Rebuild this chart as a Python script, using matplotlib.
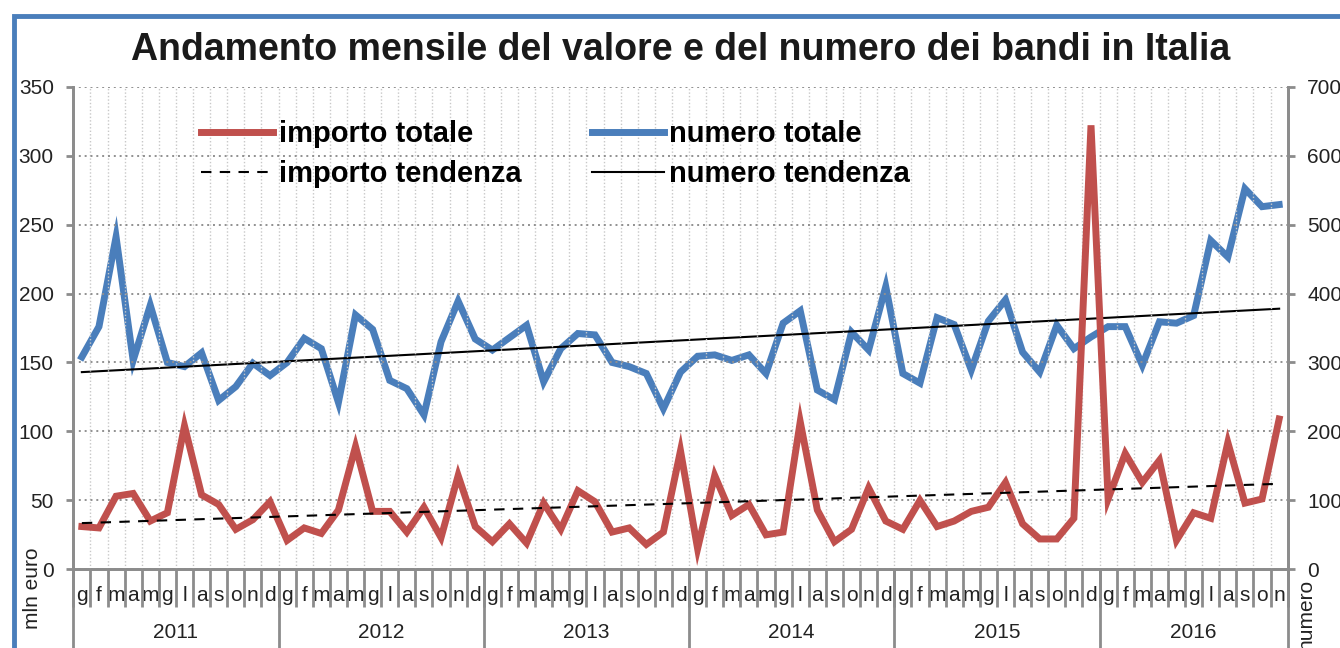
import numpy as np
import matplotlib
matplotlib.use('Agg')
import matplotlib.pyplot as plt
from matplotlib.patches import Rectangle

plt.rcParams['font.family'] = ['Liberation Sans', 'DejaVu Sans']

anni = ['2011', '2012', '2013', '2014', '2015', '2016']
mesi = ['g', 'f', 'm', 'a', 'm', 'g', 'l', 'a', 's', 'o', 'n', 'd']
mesi_per_anno = [12, 12, 12, 12, 12, 11]

# importo totale (mln euro)
importo = [31, 30, 53, 55, 35, 41, 104, 54, 47, 29, 36, 49,
           21, 30, 26, 43, 89, 42, 42, 27, 45, 23, 68, 31,
           20, 33, 19, 48, 29, 57, 49, 27, 30, 18, 27, 86,
           15, 68, 39, 47, 25, 27, 107, 43, 20, 29, 59, 35,
           29, 50, 31, 35, 42, 45, 63, 33, 22, 22, 37, 322,
           51, 84, 63, 79, 21, 41, 37, 92, 48, 51, 109]

# numero totale
numero = [308, 352, 482, 303, 383, 300, 294, 314, 245, 265, 299, 281,
          300, 335, 320, 242, 369, 348, 274, 262, 224, 330, 389, 334,
          318, 336, 354, 272, 320, 342, 340, 300, 294, 284, 233, 286,
          309, 311, 303, 311, 284, 357, 375, 260, 246, 344, 318, 410,
          284, 270, 365, 355, 289, 360, 391, 315, 286, 354, 320, 337,
          352, 352, 296, 359, 357, 368, 477, 453, 552, 526, 529]

# linee di tendenza (inizio, fine)
importo_tendenza = [33.5, 62]
numero_tendenza = [286, 378]

etichette_mesi = []
for n in mesi_per_anno:
    etichette_mesi += mesi[:n]
x = np.arange(len(importo))
x_tend = [x[0], x[-1]]

rosso = '#c0504d'
blu = '#4a7ebb'
grigio = '#8c8c8c'

fig = plt.figure(figsize=(13.4, 6.48), dpi=100)
ax = fig.add_axes([73.3 / 1340, 1 - 569.3 / 648, (1287.7 - 73.3) / 1340, (569.3 - 86.7) / 648])
ax2 = ax.twinx()
ax.set_zorder(ax2.get_zorder() + 1)
ax.patch.set_visible(False)

# numero sull'asse destro
l_num, = ax2.plot(x, numero, color=blu, lw=5, solid_joinstyle='miter', zorder=3, label='numero totale')
l_num_t, = ax2.plot(x_tend, numero_tendenza, color='black', lw=1.5, zorder=4, label='numero tendenza')

# importo sull'asse sinistro
l_imp, = ax.plot(x, importo, color=rosso, lw=5, solid_joinstyle='miter', zorder=3, label='importo totale')
l_imp_t, = ax.plot(x_tend, importo_tendenza, color='black', lw=1.5, ls=(0, (5, 4)), zorder=4,
                   label='importo tendenza')

ax.set_xlim(-0.5, len(x) - 0.5)
ax.set_ylim(0, 350)
ax2.set_ylim(0, 700)
ax.set_yticks(np.arange(0, 351, 50))
ax2.set_yticks(np.arange(0, 701, 100))

# griglia
ax.grid(axis='y', color='#909090', ls=(0, (1, 2)), lw=1.4)
for b in np.arange(0.5, len(x) - 0.5, 1):
    ax.axvline(b, color='#c8c8c8', ls=(0, (1, 1.5)), lw=1, zorder=0)

for a in (ax, ax2):
    a.spines['top'].set_visible(False)
    for s in ['left', 'right', 'bottom']:
        a.spines[s].set_color(grigio)
        a.spines[s].set_linewidth(2)

ax.tick_params(axis='y', length=5, width=2, color=grigio, labelsize=15, pad=9, labelcolor='#222222')
ax2.tick_params(axis='y', length=5, width=2, color=grigio, labelsize=15, pad=9, labelcolor='#222222')

# asse x a due livelli
ax.set_xticks(x)
ax.set_xticklabels(etichette_mesi)
ax.tick_params(axis='x', length=0, labelsize=15, pad=12, labelcolor='#222222')
ax.set_xticks(np.arange(-0.5, len(x), 1), minor=True)
ax.tick_params(axis='x', which='minor', length=27, width=2, color=grigio, direction='out')

trans = ax.get_xaxis_transform()
inizio = -0.5
for anno, n in zip(anni, mesi_per_anno):
    ax.plot([inizio, inizio], [0, -0.2], transform=trans, color=grigio, lw=2, clip_on=False)
    ax.text(inizio + n / 2, -0.13, anno, transform=trans, ha='center', va='center',
            fontsize=15, color='#222222')
    inizio += n
ax.plot([inizio, inizio], [0, -0.2], transform=trans, color=grigio, lw=2, clip_on=False)

fig.text(33 / 1340, 1 - 588 / 648, 'mln euro', rotation=90, ha='center', va='center',
         fontsize=15, color='#222222')
fig.text(1306 / 1340, 1 - 614 / 648, 'numero', rotation=90, ha='center', va='center',
         fontsize=15, color='#222222')

fig.text(681 / 1340, 1 - 60 / 648, 'Andamento mensile del valore e del numero dei bandi in Italia',
         ha='center', va='baseline', fontsize=27, fontweight='bold', color='#1a1a1a')

ax.legend(handles=[l_imp, l_imp_t, l_num, l_num_t], ncol=2, frameon=False,
          loc='upper left', bbox_to_anchor=(201 / 1340, 1 - 120 / 648), bbox_transform=fig.transFigure,
          prop={'size': 21, 'weight': 'bold'}, handlelength=2.47, handletextpad=0.2,
          columnspacing=2.4, labelspacing=0.42, borderpad=0, borderaxespad=0)

# cornice blu
fig.patches.append(Rectangle((14 / 1340, -0.1), 1.2, 1 - 15.5 / 648 + 0.1, transform=fig.transFigure,
                             fill=False, edgecolor=blu, lw=3.5))

fig.savefig('out.png', dpi=100)
